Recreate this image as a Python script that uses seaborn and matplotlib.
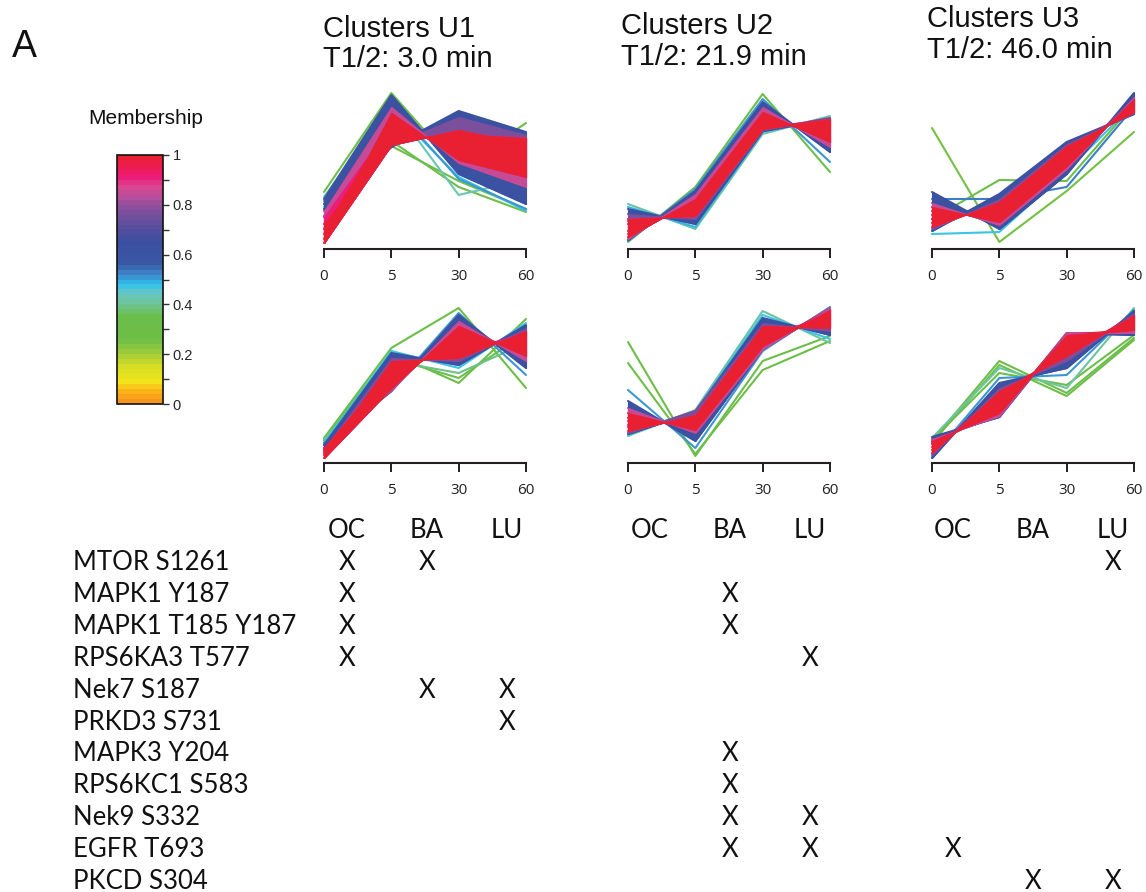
import numpy as np
import pandas as pd
import matplotlib
matplotlib.use("Agg")
import matplotlib.pyplot as plt
import seaborn as sns
from matplotlib.colors import LinearSegmentedColormap, ListedColormap, Normalize
import matplotlib.cm as cm

# ---------------- data ----------------
TIME_LABELS = ["0", "5", "30", "60"]
TIME_POS = [0, 1, 2, 3]

CLUSTER_NAMES = ["Clusters U1", "Clusters U2", "Clusters U3"]
HALF_LIVES = ["T1/2: 3.0 min", "T1/2: 21.9 min", "T1/2: 46.0 min"]

# standardized profiles (values at 0, 5, 30, 60 min) and memberships
U1_top_values = [
    [0.06, 1.04, 1.19, 1.05], [0.10, 1.36, 0.89, 0.72], [0.15, 1.20, 1.05, 0.95],
    [0.20, 1.30, 0.95, 0.80], [0.25, 1.10, 1.15, 1.11], [0.32, 1.25, 1.00, 0.88],
    [0.38, 1.42, 0.86, 0.62], [0.33, 1.04, 1.32, 1.14],
    [0.45, 1.50, 0.80, 0.50], [0.40, 1.02, 1.38, 1.17], [0.50, 1.54, 0.75, 0.45],
    [0.48, 1.45, 0.70, 0.40], [0.42, 1.40, 0.72, 0.38],
    [0.57, 1.56, 0.80, 1.26], [0.52, 1.45, 0.54, 0.70], [0.45, 1.08, 0.62, 0.37],
    [0.40, 1.03, 0.68, 0.40],
]
U1_top_member = [1.0, 0.97, 0.95, 0.93, 0.92, 0.91,
                 0.84, 0.76,
                 0.66, 0.62, 0.58,
                 0.50, 0.47,
                 0.30, 0.42, 0.30, 0.35]

U1_bottom_values = [
    [0.05, 0.75, 1.37, 1.07], [0.08, 1.02, 1.05, 1.32], [0.12, 0.85, 1.25, 1.15],
    [0.15, 0.95, 1.15, 1.25], [0.10, 0.80, 1.30, 1.12], [0.13, 0.98, 1.10, 1.30],
    [0.15, 0.73, 1.42, 1.02], [0.14, 1.05, 1.02, 1.35],
    [0.18, 0.72, 1.48, 0.95], [0.18, 1.10, 0.98, 1.38],
    [0.20, 0.74, 1.50, 0.88], [0.20, 1.12, 0.95, 1.40],
    [0.25, 1.15, 1.55, 0.75], [0.24, 1.10, 0.80, 1.44], [0.22, 1.05, 0.85, 1.30],
    [0.23, 1.02, 0.90, 1.20],
]
U1_bottom_member = [1.0, 0.97, 0.95, 0.93, 0.92, 0.91,
                    0.84, 0.76,
                    0.66, 0.60,
                    0.50, 0.46,
                    0.30, 0.30, 0.33, 0.38]

U2_top_values = [
    [0.12, 0.50, 1.37, 1.07], [0.30, 0.33, 1.20, 1.30], [0.18, 0.45, 1.32, 1.12],
    [0.25, 0.38, 1.25, 1.25], [0.15, 0.48, 1.35, 1.10], [0.28, 0.35, 1.22, 1.28],
    [0.10, 0.55, 1.42, 1.02], [0.35, 0.30, 1.19, 1.31],
    [0.09, 0.58, 1.47, 0.97], [0.40, 0.25, 1.18, 1.30],
    [0.08, 0.60, 1.50, 0.87], [0.42, 0.22, 1.17, 1.31],
    [0.45, 0.20, 1.15, 1.33], [0.07, 0.62, 1.55, 0.77],
]
U2_top_member = [1.0, 0.97, 0.95, 0.93, 0.92, 0.91,
                 0.84, 0.76,
                 0.64, 0.60,
                 0.50, 0.48,
                 0.40, 0.33]

U2_bottom_values = [
    [0.50, 0.33, 1.17, 1.53], [0.32, 0.48, 1.37, 1.35], [0.45, 0.36, 1.22, 1.50],
    [0.36, 0.45, 1.32, 1.38], [0.42, 0.40, 1.27, 1.45], [0.38, 0.42, 1.30, 1.42],
    [0.55, 0.30, 1.14, 1.55], [0.30, 0.52, 1.40, 1.32],
    [0.62, 0.22, 1.14, 1.55], [0.29, 0.51, 1.45, 1.28],
    [0.73, 0.15, 1.12, 1.56], [0.28, 0.52, 1.48, 1.24],
    [0.27, 0.53, 1.52, 1.20],
    [1.21, 0.07, 1.02, 1.27], [1.00, 0.09, 0.93, 1.22],
]
U2_bottom_member = [1.0, 0.97, 0.95, 0.93, 0.92, 0.91,
                    0.84, 0.76,
                    0.64, 0.60,
                    0.50, 0.47,
                    0.40,
                    0.30, 0.30]

U3_top_values = [
    [0.42, 0.27, 0.83, 1.50], [0.22, 0.47, 1.03, 1.37], [0.38, 0.31, 0.88, 1.47],
    [0.26, 0.43, 0.98, 1.40], [0.34, 0.35, 0.92, 1.44], [0.30, 0.39, 0.95, 1.42],
    [0.46, 0.24, 0.80, 1.52], [0.20, 0.50, 1.05, 1.36],
    [0.57, 0.20, 0.75, 1.56], [0.18, 0.55, 1.07, 1.35], [0.50, 0.50, 0.62, 1.42],
    [0.15, 0.17, 0.78, 1.45],
    [0.30, 0.69, 0.68, 1.45], [1.21, 0.07, 0.58, 1.17],
]
U3_top_member = [1.0, 0.97, 0.95, 0.93, 0.92, 0.91,
                 0.84, 0.76,
                 0.64, 0.60, 0.53,
                 0.47,
                 0.35, 0.25]

U3_bottom_values = [
    [0.22, 0.50, 1.28, 1.33], [0.10, 0.72, 1.07, 1.48], [0.19, 0.55, 1.23, 1.36],
    [0.13, 0.67, 1.12, 1.45], [0.16, 0.60, 1.18, 1.40], [0.20, 0.52, 1.25, 1.35],
    [0.24, 0.47, 1.30, 1.30], [0.08, 0.75, 1.02, 1.50],
    [0.05, 0.80, 0.95, 1.52], [0.26, 0.46, 1.30, 1.28],
    [0.06, 0.85, 0.88, 1.53],
    [0.25, 0.95, 0.75, 1.55], [0.22, 1.02, 0.70, 1.25], [0.20, 0.98, 0.67, 1.23],
    [0.23, 0.90, 0.78, 1.28],
]
U3_bottom_member = [1.0, 0.97, 0.95, 0.93, 0.92, 0.91,
                    0.84, 0.76,
                    0.64, 0.60,
                    0.50,
                    0.40, 0.30, 0.28, 0.32]

# table of kinases
SITE_LABELS = ["MTOR S1261", "MAPK1 Y187", "MAPK1 T185 Y187", "RPS6KA3 T577",
               "Nek7 S187", "PRKD3 S731", "MAPK3 Y204", "RPS6KC1 S583",
               "Nek9 S332", "EGFR T693", "PKCD S304"]
TISSUES = ["OC", "BA", "LU"]
U1_table = [[1, 1, 0], [1, 0, 0], [1, 0, 0], [1, 0, 0], [0, 1, 1], [0, 0, 1],
            [0, 0, 0], [0, 0, 0], [0, 0, 0], [0, 0, 0], [0, 0, 0]]
U2_table = [[0, 0, 0], [0, 1, 0], [0, 1, 0], [0, 0, 1], [0, 0, 0], [0, 0, 0],
            [0, 1, 0], [0, 1, 0], [0, 1, 1], [0, 1, 1], [0, 0, 0]]
U3_table = [[0, 0, 1], [0, 0, 0], [0, 0, 0], [0, 0, 0], [0, 0, 0], [0, 0, 0],
            [0, 0, 0], [0, 0, 0], [0, 0, 0], [1, 0, 0], [0, 1, 1]]

# ---------------- style ----------------
sns.set_theme(style="white")
plt.rcParams['font.family'] = ['Liberation Sans', 'DejaVu Sans']

CMAP_STOPS = [(0.0, '#F7941D'), (0.04, '#FBB316'), (0.08, '#F3E61C'), (0.14, '#D6DE25'),
              (0.20, '#9DCB3B'), (0.25, '#6DBE45'), (0.35, '#6CBE4B'), (0.40, '#6DC39A'),
              (0.44, '#68C7C0'), (0.48, '#2FC3F0'), (0.52, '#3E88CB'), (0.57, '#3A57A6'),
              (0.66, '#3B4EA0'), (0.72, '#5A4E9E'), (0.78, '#7E4F9D'), (0.84, '#B64E9C'),
              (0.88, '#D9478F'), (0.92, '#EC1C7B'), (0.96, '#ED1B55'), (1.0, '#E92032')]
_base = LinearSegmentedColormap.from_list("membership", CMAP_STOPS)
CMAP = ListedColormap(_base(np.linspace(0, 1, 50)))

# (membership threshold, colour level) of nested envelopes
LAYERS = [(0.55, 0.62), (0.72, 0.76), (0.82, 0.85), (0.90, 0.915), (0.92, 0.985)]
DARK = '#231F20'

W, H = 1146, 892
fig = plt.figure(figsize=(W / 100, H / 100), dpi=100)


def px_axes(left, top, right, bottom):
    return fig.add_axes([left / W, 1 - bottom / H, (right - left) / W, (bottom - top) / H])


def draw_panel(ax, values, member):
    rows = []
    for i, (vals, m) in enumerate(zip(values, member)):
        for p, v in zip(TIME_POS, vals):
            rows.append(dict(line=i, pos=p, value=v, membership=m))
    df = pd.DataFrame(rows)
    sns.lineplot(data=df, x='pos', y='value', units='line', estimator=None,
                 hue='membership', palette=CMAP, hue_norm=(0, 1), legend=False,
                 sort=False, linewidth=1.5, ax=ax)
    for ln in ax.lines:
        ln.set_clip_on(False)
    xs = np.linspace(0, 3, 301)
    for k, (thr, col) in enumerate(LAYERS):
        sub = [v for v, m in zip(values, member) if m >= thr]
        if len(sub) < 2:
            continue
        Y = np.array([np.interp(xs, TIME_POS, v) for v in sub])
        ax.fill_between(xs, Y.min(0), Y.max(0), color=CMAP(col), lw=0.8,
                        edgecolor=CMAP(col), clip_on=False, zorder=3 + k)
    ax.set_xlim(0, 3)
    ax.set_ylim(0, 1.6)
    ax.set_xticks(TIME_POS)
    ax.set_xticklabels(TIME_LABELS, fontsize=11, fontfamily=['Open Sans', 'DejaVu Sans'],
                       color=DARK)
    ax.set_yticks([])
    ax.set_xlabel('')
    ax.set_ylabel('')
    for s in ['left', 'right', 'top']:
        ax.spines[s].set_visible(False)
    ax.spines['bottom'].set_color(DARK)
    ax.spines['bottom'].set_linewidth(1.5)
    ax.tick_params(axis='x', direction='out', length=6.5, width=1.4, color=DARK,
                   pad=8, bottom=True)
    ax.patch.set_alpha(0)


PANEL_X = [(324, 526), (628, 830), (932, 1134)]
ROW_BOTTOMS = [249, 463]
PANELS = [[(U1_top_values, U1_top_member), (U2_top_values, U2_top_member),
           (U3_top_values, U3_top_member)],
          [(U1_bottom_values, U1_bottom_member), (U2_bottom_values, U2_bottom_member),
           (U3_bottom_values, U3_bottom_member)]]

for r, bottom in enumerate(ROW_BOTTOMS):
    for c, (x0, x3) in enumerate(PANEL_X):
        ax = px_axes(x0, bottom - 160, x3, bottom)
        vals, mem = PANELS[r][c]
        draw_panel(ax, vals, mem)

# titles
TITLE_POS = [(323, 37, 67), (621, 34, 65), (927, 27, 58)]
for name, hl, (x, b1, b2) in zip(CLUSTER_NAMES, HALF_LIVES, TITLE_POS):
    fig.text(x / W, 1 - b1 / H, name, fontsize=21, va='baseline', ha='left', color='#111111')
    fig.text(x / W, 1 - b2 / H, hl, fontsize=21, va='baseline', ha='left', color='#111111')

fig.text(12 / W, 1 - 57 / H, "A", fontsize=27, va='baseline', ha='left', color='#111111')

# colorbar
fig.text(146 / W, 1 - 118 / H, "Membership", fontsize=15, ha='center', va='center',
         color='#111111')
cax = px_axes(117, 155, 163, 404)
sm = cm.ScalarMappable(norm=Normalize(0, 1), cmap=CMAP)
cb = fig.colorbar(sm, cax=cax)
cb.set_ticks([0, 0.2, 0.4, 0.6, 0.8, 1.0])
cb.set_ticklabels(["0", "0.2", "0.4", "0.6", "0.8", "1"])
cb.ax.set_yticks([0.1, 0.3, 0.5, 0.7, 0.9], minor=True)
cb.ax.tick_params(which='both', direction='out', length=4, width=1, color='#333333',
                  labelsize=10.5, pad=3, right=True)
cb.outline.set_linewidth(1.2)
cb.outline.set_edgecolor('#111111')

# table
TABLE_FONT = ['Lato', 'DejaVu Sans']
ROW_STEP = 31.9
FIRST_BASE = 570
top_idx = (500 - FIRST_BASE) / ROW_STEP
bot_idx = (H - FIRST_BASE) / ROW_STEP

lab_ax = px_axes(73, 500, 300, H)
lab_ax.set_xlim(0, 1)
lab_ax.set_ylim(bot_idx, top_idx)
lab_ax.axis('off')
for i, lab in enumerate(SITE_LABELS):
    lab_ax.text(0, i, lab, fontsize=18.5, fontfamily=TABLE_FONT, ha='left', va='baseline',
                color='#111111', clip_on=False)

GROUP_OC_X = [347, 650, 953]
COL_STEP = 80
for gx, table in zip(GROUP_OC_X, [U1_table, U2_table, U3_table]):
    gax = px_axes(gx - COL_STEP / 2, 500, gx + 2.5 * COL_STEP, H)
    gax.set_xlim(-0.5, 2.5)
    gax.set_ylim(bot_idx, top_idx)
    gax.axis('off')
    for k, t in enumerate(TISSUES):
        gax.text(k, -1, t, fontsize=18.5, fontfamily=TABLE_FONT, ha='center',
                 va='baseline', color='#111111', clip_on=False)
    for i, row in enumerate(table):
        for k, flag in enumerate(row):
            if flag:
                gax.text(k, i, "X", fontsize=18.5, fontfamily=TABLE_FONT, ha='center',
                         va='baseline', color='#111111', clip_on=False)

fig.savefig("out.png", dpi=100, facecolor='white')
